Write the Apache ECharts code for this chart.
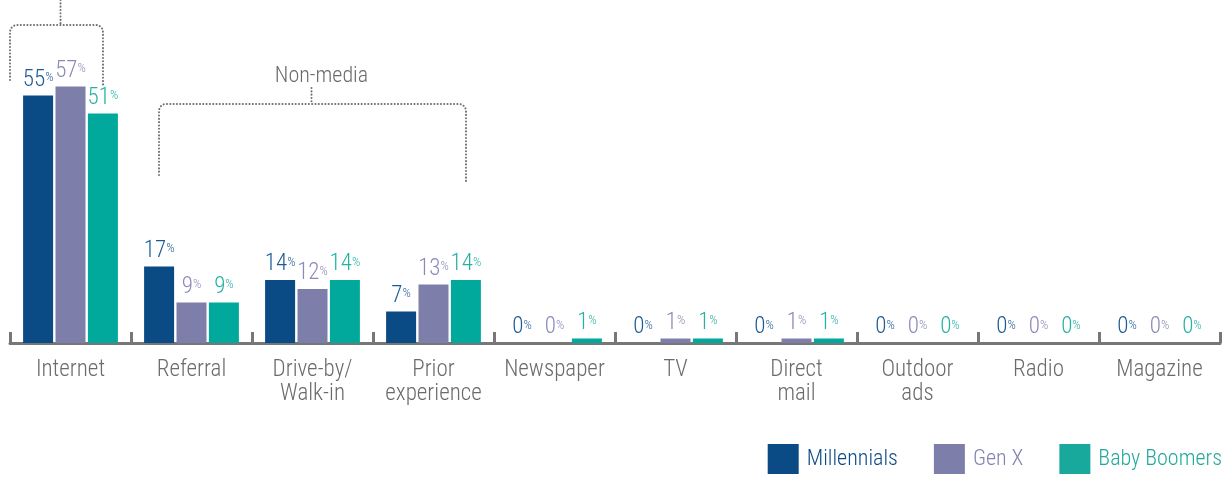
<!DOCTYPE html>
<html>
<head>
<meta charset="utf-8">
<script src="https://cdn.jsdelivr.net/npm/echarts@6/dist/echarts.min.js"></script>
<style>
html,body{margin:0;padding:0;background:#fff;}
#c{width:1229px;height:477px;}
</style>
</head>
<body>
<div id="c"></div>
<script>
const categories = ['Internet', 'Referral', 'Drive-by/\nWalk-in', 'Prior\nexperience', 'Newspaper', 'TV', 'Direct\nmail', 'Outdoor\nads', 'Radio', 'Magazine'];
const millennials = [55, 17, 14, 7, 0, 0, 0, 0, 0, 0];
const genX = [57, 9, 12, 13, 0, 1, 1, 0, 0, 0];
const babyBoomers = [51, 9, 14, 14, 1, 1, 1, 0, 0, 0];
const seriesNames = ['Millennials', 'Gen X', 'Baby Boomers'];
const groupLabel = 'Non-media';

const FONT = '"Roboto Condensed", Roboto, sans-serif';
const W = 300;
const barColors = ['#0a4a85', '#7e7eab', '#00a99c'];
const labelColors = ['#1b5a94', '#8b89b9', '#26b1a5'];
const legendText = ['#0d4a85', '#8482b3', '#22a99d'];
const legendColors = ['#0a4a85', '#7e7eab', '#19a89c'];
const grey = '#777777';

function mkSeries(name, data, i) {
  return {
    name: name,
    type: 'bar',
    data: data,
    barWidth: 30,
    barGap: '8%',
    itemStyle: { color: barColors[i] },
    label: {
      show: true,
      position: 'top',
      distance: 4,
      formatter: p => '{n|' + p.value + '}{p|%}',
      rich: {
        n: { fontFamily: FONT, fontWeight: W, fontSize: 23, color: labelColors[i], lineHeight: 20, verticalAlign: 'bottom' },
        p: { fontFamily: FONT, fontWeight: W, fontSize: 13, color: labelColors[i], lineHeight: 12, verticalAlign: 'top' }
      }
    },
    emphasis: { disabled: true }
  };
}

const chart = echarts.init(document.getElementById('c'), null, { renderer: 'canvas' });
chart.setOption({
  animation: false,
  backgroundColor: '#ffffff',
  grid: { left: 10, right: 9, top: 73, bottom: 134, containLabel: false },
  xAxis: {
    type: 'category',
    data: categories,
    axisLine: { show: true, lineStyle: { color: grey, width: 3 } },
    axisTick: { show: true, inside: true, length: 11, lineStyle: { color: grey, width: 3 } },
    axisLabel: { color: '#6b6b6b', fontFamily: FONT, fontWeight: W, fontSize: 23, lineHeight: 24, margin: 15, interval: 0 }
  },
  yAxis: {
    type: 'value',
    min: 0,
    max: 60,
    show: false,
    splitLine: { show: false }
  },
  legend: {
    right: 7,
    top: 444,
    padding: 0,
    itemWidth: 31,
    itemHeight: 30,
    itemGap: 36,
    icon: 'rect',
    textStyle: { fontFamily: FONT, fontWeight: W, fontSize: 22, padding: [0, 0, 0, 3] },
    data: seriesNames.map((n, i) => ({ name: n, itemStyle: { color: legendColors[i] }, textStyle: { color: legendText[i] } }))
  },
  series: [
    mkSeries(seriesNames[0], millennials, 0),
    mkSeries(seriesNames[1], genX, 1),
    mkSeries(seriesNames[2], babyBoomers, 2)
  ]
});

// Bracket annotations, positioned from the category axis
const cx = name => chart.convertToPixel({ xAxisIndex: 0 }, name);
function bracketPts(x1, x2, yTop, yL, yR) {
  const r = 7, pts = [[x1, yL], [x1, yTop + r]];
  for (let k = 1; k <= 6; k++) {
    const a = Math.PI + (k / 6) * Math.PI / 2;
    pts.push([x1 + r + r * Math.cos(a), yTop + r + r * Math.sin(a)]);
  }
  pts.push([x2 - r, yTop]);
  for (let k = 1; k <= 6; k++) {
    const a = 1.5 * Math.PI + (k / 6) * Math.PI / 2;
    pts.push([x2 - r + r * Math.cos(a), yTop + r + r * Math.sin(a)]);
  }
  pts.push([x2, yR]);
  return pts;
}
const dotStyle = { fill: null, stroke: '#6f6f6f', lineWidth: 2, lineDash: [0.1, 3.2], lineCap: 'round' };
const ci = cx(categories[0]);
const cr = cx(categories[1]);
const cp = cx(categories[3]);
const nm1 = ci - 60.5, nm2 = ci + 32.5;
const nn1 = cr - 32.5, nn2 = cp + 32.5;
const ns = (nn1 + nn2) / 2 - 1;
chart.setOption({
  graphic: [
    { type: 'polyline', silent: true, shape: { points: bracketPts(nm1, nm2, 25, 80, 85) }, style: dotStyle },
    { type: 'polyline', silent: true, shape: { points: [[ci - 10, 0], [ci - 10, 25]] }, style: dotStyle },
    { type: 'polyline', silent: true, shape: { points: bracketPts(nn1, nn2, 104, 175, 182) }, style: dotStyle },
    { type: 'polyline', silent: true, shape: { points: [[ns, 88], [ns, 104]] }, style: dotStyle },
    { type: 'text', silent: true, x: ns + 10, y: 76,
      style: { text: groupLabel, fontFamily: FONT, fontWeight: W, fontSize: 22, fill: '#6b6b6b', align: 'center', verticalAlign: 'middle' } }
  ]
});
</script>
</body>
</html>
